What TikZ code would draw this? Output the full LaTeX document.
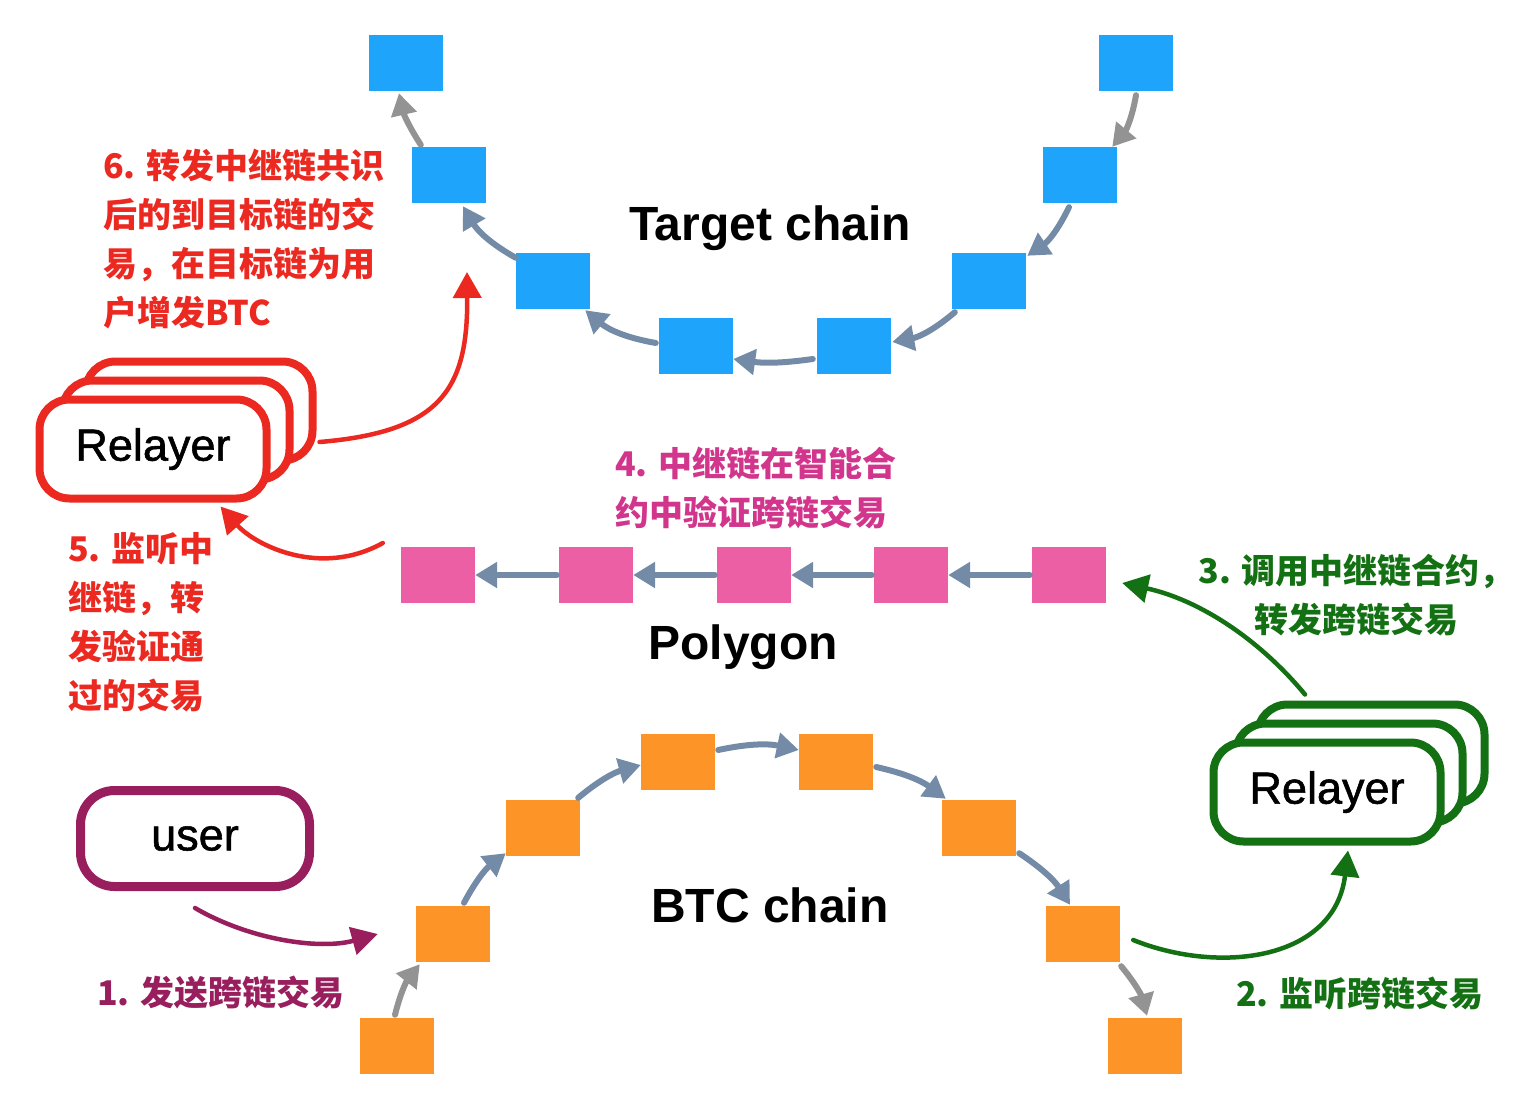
\documentclass[tikz,border=0pt]{standalone}
\usepackage{fontspec}
\setmainfont{Liberation Sans}
\newfontfamily\medfont{Liberation Sans}[FakeBold=1.2]
\newfontfamily\cjk{Noto Sans CJK SC}
\usetikzlibrary{arrows.meta,calc}
\definecolor{cblue}{HTML}{1EA4FB}
\definecolor{corange}{HTML}{FC9427}
\definecolor{cpink}{HTML}{EC5FA5}
\definecolor{csteel}{HTML}{738BA6}
\definecolor{cgray}{HTML}{939393}
\definecolor{cred}{HTML}{EB2921}
\definecolor{cgreen}{HTML}{137013}
\definecolor{cpurple}{HTML}{981E5D}
\definecolor{cpinktext}{HTML}{D2368C}
\tikzset{
 blk/.style={rectangle, minimum width=74pt, minimum height=56pt, inner sep=0pt, draw=none},
 bblk/.style={blk, fill=cblue},
 oblk/.style={blk, fill=corange},
 pblk/.style={blk, fill=cpink},
 chainar/.style={line width=6pt, line cap=round, draw=csteel, -{Triangle[length=22pt,width=25pt]}},
 grayar/.style={chainar, draw=cgray},
 conn/.style={line width=4.5pt, line cap=round, -{Triangle[length=26pt,width=28pt]}},
 relbox/.style={rectangle, rounded corners=30pt, line width=8pt, fill=white, minimum width=227pt, minimum height=99pt, inner sep=0pt, font=\medfont\fontsize{45}{50}\selectfont},
 title/.style={font=\bfseries\fontsize{48}{56}\selectfont, anchor=base, inner sep=0pt},
 note/.style={font=\cjk\bfseries\fontsize{34}{49}\selectfont, inner sep=0pt, align=left, anchor=west},
}
\begin{document}
\begin{tikzpicture}[x=1pt,y=-1pt]
\path[use as bounding box] (0,0) rectangle (1538,1116);
% Target chain
\node[bblk] (B1) at (406,63) {};
\node[bblk] (B2) at (449,175) {};
\node[bblk] (B3) at (553,281) {};
\node[bblk] (B4) at (696,346) {};
\node[bblk] (B5) at (854,346) {};
\node[bblk] (B6) at (989,281) {};
\node[bblk] (B7) at (1080,175) {};
\node[bblk] (B8) at (1136,63) {};
% Polygon
\node[pblk] (P1) at (438,575) {};
\node[pblk] (P2) at (596,575) {};
\node[pblk] (P3) at (754,575) {};
\node[pblk] (P4) at (911,575) {};
\node[pblk] (P5) at (1069,575) {};
% BTC
\node[oblk] (O1) at (397,1046) {};
\node[oblk] (O2) at (453,934) {};
\node[oblk] (O3) at (543,828) {};
\node[oblk] (O4) at (678,762) {};
\node[oblk] (O5) at (836,762) {};
\node[oblk] (O6) at (979,828) {};
\node[oblk] (O7) at (1083,934) {};
\node[oblk] (O8) at (1145,1046) {};
% titles
\node[title] (tt) at (770,240) {Target chain};
\node[title] (tp) at (743,659) {Polygon};
\node[title] (tb) at (770,922) {BTC chain};
% target chain arrows
\draw[grayar] ([yshift=-4pt]B8.south) to[bend left=15] ([xshift=-5pt]B7.north east);
\draw[chainar] ([xshift=-11pt,yshift=-4pt]B7.south) to[bend left=15] ([xshift=1pt,yshift=-3pt]B6.north east);
\draw[chainar] ([xshift=3pt,yshift=-3pt]B6.south west) to[bend left=15] ([xshift=1pt,yshift=4pt]B5.east);
\draw[chainar] ([xshift=-4pt,yshift=-13pt]B5.west) to[bend left=8] ([yshift=-13pt]B4.east);
\draw[chainar] ([xshift=-3pt,yshift=3pt]B4.west) to[bend left=15] ([xshift=-5pt,yshift=-1pt]B3.south east);
\draw[chainar] ([yshift=-5pt]B3.north west) to[bend left=15] ([xshift=14pt,yshift=-3pt]B2.south);
\draw[grayar] ([xshift=9pt,yshift=2pt]B2.north west) to[bend left=10] ([xshift=-7pt,yshift=-2pt]B1.south);
% polygon arrows
\draw[chainar] ([xshift=-2pt]P5.west) -- (P4.east);
\draw[chainar] ([xshift=-2pt]P4.west) -- (P3.east);
\draw[chainar] ([xshift=-2pt]P3.west) -- (P2.east);
\draw[chainar] ([xshift=-2pt]P2.west) -- (P1.east);
% btc arrows
\draw[grayar] ([xshift=-2pt,yshift=3pt]O1.north) to[bend left=12] ([xshift=4pt,yshift=-2pt]O2.south west);
\draw[chainar] ([xshift=11pt,yshift=3pt]O2.north) to[bend left=12] ([yshift=3pt]O3.south west);
\draw[chainar] ([xshift=-2pt,yshift=2pt]O3.north east) to[bend left=12] ([yshift=-3pt]O4.west);
\draw[chainar] ([xshift=3pt,yshift=12pt]O4.east) to[bend left=12] ([yshift=12pt]O5.west);
\draw[chainar] ([xshift=3pt,yshift=-5pt]O5.east) to[bend left=12] ([xshift=4pt,yshift=1pt]O6.north west);
\draw[chainar] ([xshift=3pt,yshift=3pt]O6.south east) to[bend left=12] ([xshift=-13pt,yshift=1pt]O7.north);
\draw[grayar] ([xshift=1pt,yshift=-4pt]O7.south east) to[bend left=12] ([xshift=2pt,yshift=2pt]O8.north);
% relayer boxes
\node[relbox, draw=cred] (r6back) at (199,411) {};
\node[relbox, draw=cred] (r6mid) at (176,430) {};
\node[relbox, draw=cred] (r6front) at (153,449) {Relayer};
\node[relbox, draw=cgreen] (g6back) at (1371,754) {};
\node[relbox, draw=cgreen] (g6mid) at (1349,773) {};
\node[relbox, draw=cgreen] (g6front) at (1327,792) {Relayer};
\node[relbox, draw=cpurple, line width=9pt, minimum width=229pt, minimum height=96pt, rounded corners=34pt] (user) at (195,838.5) {user};
% notes
\node[note, text=cred] (n6) at (103,239) {6. 转发中继链共识\\后的到目标链的交\\易，在目标链为用\\户增发BTC};
\node[note, text=cred] (n5) at (68,622) {5. 监听中\\继链，转\\发验证通\\过的交易};
\node[note, text=cpinktext] (n4) at (615,488) {4. 中继链在智能合\\约中验证跨链交易};
\node[note, text=cgreen, align=center, anchor=center] (n3) at (1356,595) {3. 调用中继链合约，\\转发跨链交易};
\node[note, text=cgreen] (n2) at (1236,993) {2. 监听跨链交易};
\node[note, text=cpurple] (n1) at (97,993) {1. 发送跨链交易};
% connectors
\coordinate (t6) at (467,272);
\draw[conn, draw=cpurple] ([yshift=-17pt]user.south) .. controls (250,940) and (320,950) .. ([xshift=-38pt]O2.west);
\draw[conn, draw=cgreen] ([xshift=13pt,yshift=-6pt]O7.east) .. controls (1220,975) and (1335,960) .. ([xshift=21pt,yshift=-5pt]g6front.south);
\draw[conn, draw=cgreen] ([xshift=-66pt,yshift=6pt]g6back.north) .. controls (1260,640) and (1200,600) .. ([xshift=16pt,yshift=-8pt]P5.east);
\draw[conn, draw=cred] ([xshift=-18pt,yshift=32pt]P1.west) .. controls (320,578) and (255,545) .. ([xshift=-50pt,yshift=-4pt]r6front.south east);
\draw[conn, draw=cred] ([xshift=3pt,yshift=-31pt]r6back.east) .. controls (440,432) and (468,390) .. (t6);
\end{tikzpicture}
\end{document}
